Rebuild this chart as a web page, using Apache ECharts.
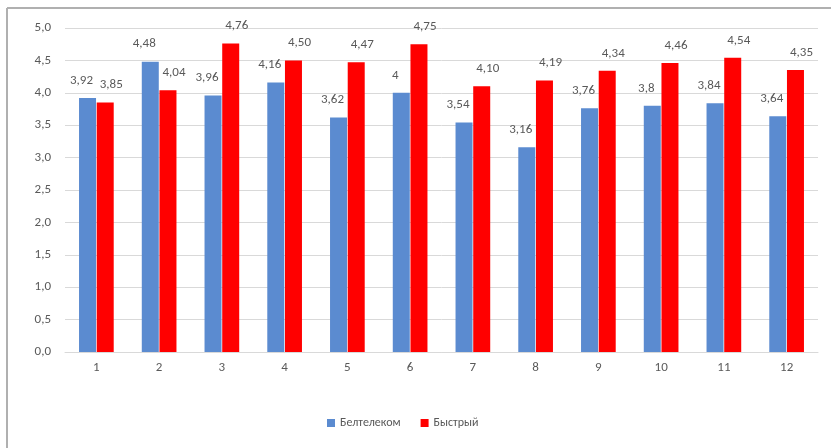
<!DOCTYPE html>
<html><head><meta charset="utf-8">
<script src="https://cdn.jsdelivr.net/npm/echarts@6/dist/echarts.min.js"></script>
<style>html,body{margin:0;padding:0;background:#fff}#c{width:831px;height:448px}</style>
</head><body><div id="c"></div>
<script>
const categories = ['1','2','3','4','5','6','7','8','9','10','11','12'];
const beltelecom = [3.92,4.48,3.96,4.16,3.62,4,3.54,3.16,3.76,3.8,3.84,3.64];
const bystry = [3.85,4.04,4.76,4.50,4.47,4.75,4.10,4.19,4.34,4.46,4.54,4.35];
const beltelecomLabels = ['3,92','4,48','3,96','4,16','3,62','4','3,54','3,16','3,76','3,8','3,84','3,64'];
const bystryLabels = ['3,85','4,04','4,76','4,50','4,47','4,75','4,10','4,19','4,34','4,46','4,54','4,35'];
const seriesNames = ['Белтелеком','Быстрый'];

const font = 'Calibri, Carlito, "Noto Sans", sans-serif';
const chart = echarts.init(document.getElementById('c'), null, {renderer:'canvas'});
chart.setOption({
  animation:false,
  backgroundColor:'#fff',
  textStyle:{fontFamily:font},
  graphic:[
    {type:'line', shape:{x1:7,y1:8,x2:831,y2:8}, style:{stroke:'#b0b0b0',lineWidth:2}},
    {type:'line', shape:{x1:7,y1:8,x2:7,y2:448}, style:{stroke:'#b0b0b0',lineWidth:2}}
  ],
  grid:{left:65,right:13,top:28,bottom:96},
  legend:{
    bottom:14, left:322, itemWidth:8, itemHeight:8, itemGap:20,
    icon:'rect',
    textStyle:{color:'#595959',fontSize:12,fontFamily:font},
    data:seriesNames
  },
  xAxis:{
    type:'category', data:categories,
    axisLine:{lineStyle:{color:'#d9d9d9'}},
    axisTick:{show:false},
    axisLabel:{color:'#595959',fontSize:13,margin:9,fontFamily:font}
  },
  yAxis:{
    type:'value', min:0, max:5, interval:0.5,
    axisLine:{show:false}, axisTick:{show:false},
    splitLine:{lineStyle:{color:'#d9d9d9'}},
    axisLabel:{color:'#595959',fontSize:13,margin:14,fontFamily:font,
      formatter:v=>v.toFixed(1).replace('.',',')}
  },
  series:[
    {name:seriesNames[0], type:'bar', data:beltelecom, barWidth:17, barGap:'4%',
     itemStyle:{color:'#5b8bd0'},
     label:{show:true, position:'top', distance:11, offset:[-6,0], color:'#595959', fontSize:13, fontFamily:font,
       formatter:p=>beltelecomLabels[p.dataIndex]}},
    {name:seriesNames[1], type:'bar', data:bystry, barWidth:17,
     itemStyle:{color:'#ff0000'},
     label:{show:true, position:'top', distance:11, offset:[6,0], color:'#595959', fontSize:13, fontFamily:font,
       formatter:p=>bystryLabels[p.dataIndex]}}
  ]
});
</script></body></html>
